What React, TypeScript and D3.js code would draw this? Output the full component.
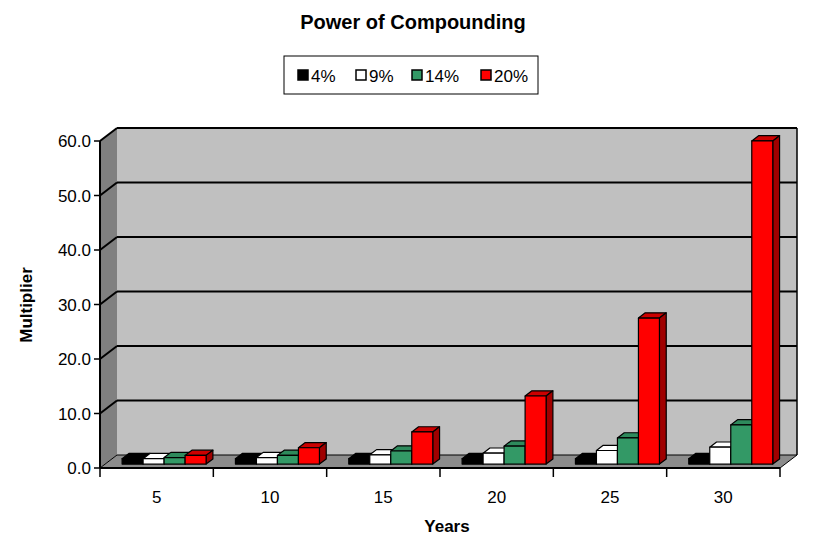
import * as d3 from "d3"

const years = ["5", "10", "15", "20", "25", "30"]
const seriesNames = ["4%", "9%", "14%", "20%"]
const rate4 = [1.0, 1.0, 1.0, 1.0, 1.0, 1.0]
const rate9 = [1.0, 1.2, 1.7, 2.0, 2.5, 3.1]
const rate14 = [1.2, 1.6, 2.4, 3.3, 4.8, 7.2]
const rate20 = [1.6, 3.0, 5.9, 12.5, 26.8, 59.3]
const yTicks = [0, 10, 20, 30, 40, 50, 60]

const fronts = ["#000000", "#ffffff", "#339966", "#ff0000"]
const tops = ["#000000", "#ffffff", "#2e8a5c", "#cc0000"]
const sides = ["#000000", "#cccccc", "#267a4f", "#a00000"]

const font = "Arial, 'Liberation Sans', sans-serif"

export default function App() {
  const series = [rate4, rate9, rate14, rate20]
  const x0 = 100, x1 = 780
  const DX = 17, DY = -13
  const x = d3.scaleBand().domain(years).range([x0, x1])
  const y = d3.scaleLinear().domain([0, 60]).range([468, 141])
  const barW = 21
  const inner = d3.scaleBand().domain(seriesNames).range([17, 17 + barW * 4])
  const pt = (px: number, py: number, d: number) => `${px + d * DX},${py + d * DY}`

  const bars: JSX.Element[] = []
  years.forEach((yr, i) => {
    series.forEach((s, k) => {
      const bx = (x(yr) as number) + (inner(seriesNames[k]) as number)
      const by = y(s[i])
      const b0 = y(0)
      const f = 0.3, b = 0.7
      bars.push(
        <g key={`${i}-${k}`} stroke="#000" strokeWidth={1.2} strokeLinejoin="round">
          <polygon points={[pt(bx, by, f), pt(bx + barW, by, f), pt(bx + barW, by, b), pt(bx, by, b)].join(" ")} fill={tops[k]} />
          <polygon points={[pt(bx + barW, by, f), pt(bx + barW, b0, f), pt(bx + barW, b0, b), pt(bx + barW, by, b)].join(" ")} fill={sides[k]} />
          <rect x={bx + f * DX} y={by + f * DY} width={barW} height={b0 - by} fill={fronts[k]} />
        </g>
      )
    })
  })

  return (
    <svg width={825} height={542} style={{ position: "absolute", left: 0, top: 0 }} fontFamily={font}>
      <rect width={825} height={542} fill="#fff" />
      <text x={413} y={29} textAnchor="middle" fontSize={20} fontWeight="bold">Power of Compounding</text>
      <rect x={284} y={56} width={254} height={38} fill="#fff" stroke="#000" />
      {seriesNames.map((n, k) => {
        const lx = [298, 356, 412, 481][k]
        return (
          <g key={n}>
            <rect x={lx} y={70} width={10} height={10} fill={fronts[k]} stroke="#000" strokeWidth={1.5} />
            <text x={lx + 13} y={82} fontSize={17}>{n}</text>
          </g>
        )
      })}
      {/* walls */}
      <polygon points={[pt(x0, y(60), 0), pt(x0, y(60), 1), pt(x0, y(0), 1), pt(x0, y(0), 0)].join(" ")} fill="#808080" />
      <rect x={x0 + DX} y={y(60) + DY} width={x1 - x0} height={y(0) - y(60)} fill="#c0c0c0" />
      <polygon points={[pt(x0, y(0), 0), pt(x1, y(0), 0), pt(x1, y(0), 1), pt(x0, y(0), 1)].join(" ")} fill="#8c8c8c" stroke="#000" strokeWidth={1} />
      <line x1={x1 + DX} x2={x1 + DX} y1={y(60) + DY} y2={y(0) + DY} stroke="#000" strokeWidth={1.5} />
      {yTicks.slice(1).map((t) => (
        <g key={t} stroke="#000" strokeWidth={2}>
          <line x1={x0} y1={y(t)} x2={x0 + DX} y2={y(t) + DY} />
          <line x1={x0 + DX} y1={y(t) + DY} x2={x1 + DX} y2={y(t) + DY} />
        </g>
      ))}
      {bars}
      {/* axes */}
      <line x1={x0} x2={x0} y1={y(60)} y2={y(0)} stroke="#000" strokeWidth={2} />
      <line x1={x0} x2={x1} y1={y(0)} y2={y(0)} stroke="#000" strokeWidth={2} />
      {yTicks.map((t) => (
        <g key={t}>
          <line x1={x0 - 6} x2={x0} y1={y(t)} y2={y(t)} stroke="#000" strokeWidth={1.5} />
          <text x={x0 - 9} y={y(t) + 6} textAnchor="end" fontSize={17}>{t.toFixed(1)}</text>
        </g>
      ))}
      {years.concat(["end"]).map((yr, i) => {
        const tx = x0 + i * x.bandwidth()
        return <line key={yr} x1={tx} x2={tx} y1={y(0)} y2={y(0) + 9} stroke="#000" strokeWidth={1.5} />
      })}
      {years.map((yr) => (
        <text key={yr} x={(x(yr) as number) + x.bandwidth() / 2} y={503} textAnchor="middle" fontSize={17}>{yr}</text>
      ))}
      <text x={447} y={532} textAnchor="middle" fontSize={17} fontWeight="bold">Years</text>
      <text transform="translate(32,305) rotate(-90)" textAnchor="middle" fontSize={17} fontWeight="bold">Multiplier</text>
    </svg>
  )
}
